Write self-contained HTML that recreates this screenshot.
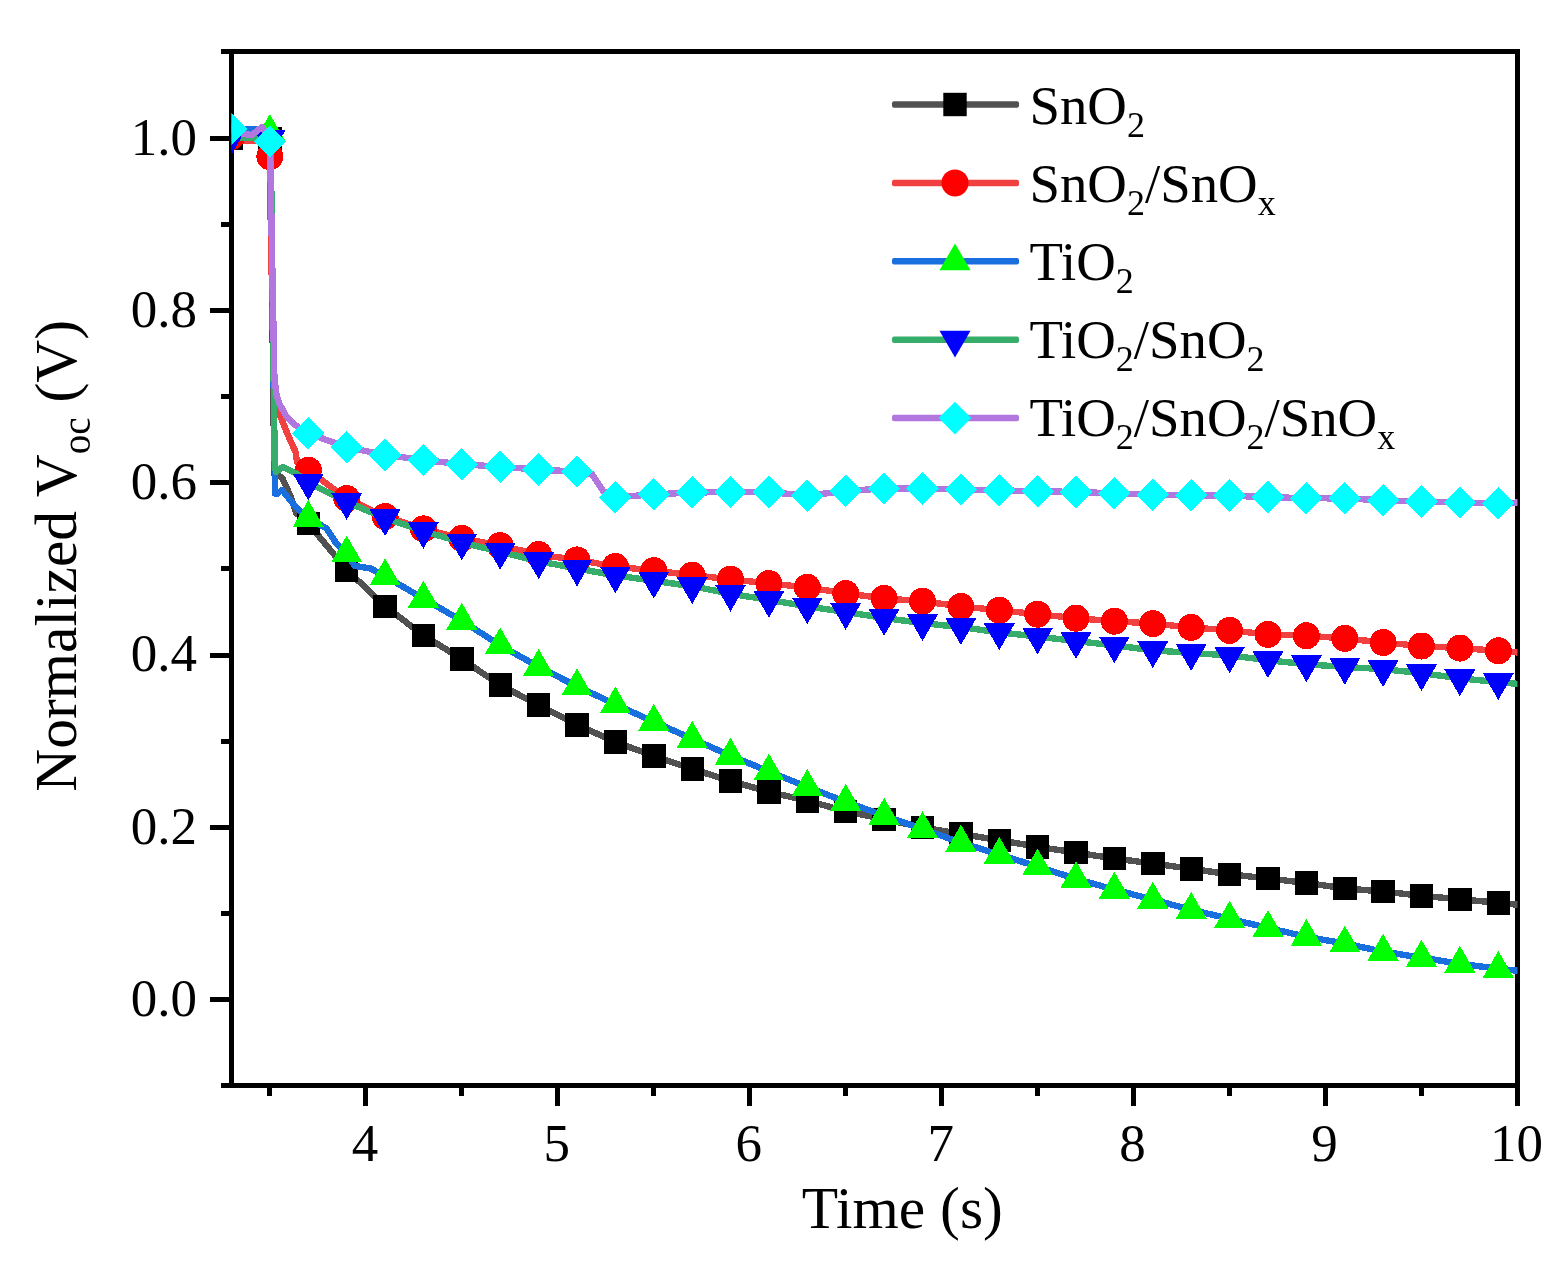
<!DOCTYPE html>
<html lang="en"><head><meta charset="utf-8"><title>Normalized Voc decay</title>
<style>
html,body{margin:0;padding:0;background:#fff;}
body{width:1564px;height:1263px;overflow:hidden;}
svg{display:block;}
text{font-family:"Liberation Serif","Times New Roman",serif;fill:#000;}
.tk{font-size:53px;}
.ti{font-size:59.5px;}
.lg{font-size:54.8px;}
</style></head><body>
<svg width="1564" height="1263" viewBox="0 0 1564 1263">
<rect width="1564" height="1263" fill="#fff"/>
<defs><clipPath id="cp"><rect x="231.5" y="51.5" width="1286.0" height="1034.0"/></clipPath></defs>

<g stroke="#000" stroke-width="5" fill="none" stroke-linecap="butt" shape-rendering="crispEdges">
<rect x="231.5" y="51.5" width="1286.0" height="1034.0"/>
<line x1="221.0" y1="1085.5" x2="231.5" y2="1085.5"/>
<line x1="210.0" y1="999.5" x2="231.5" y2="999.5"/>
<line x1="221.0" y1="913.5" x2="231.5" y2="913.5"/>
<line x1="210.0" y1="827.5" x2="231.5" y2="827.5"/>
<line x1="221.0" y1="741.5" x2="231.5" y2="741.5"/>
<line x1="210.0" y1="655.5" x2="231.5" y2="655.5"/>
<line x1="221.0" y1="568.5" x2="231.5" y2="568.5"/>
<line x1="210.0" y1="482.5" x2="231.5" y2="482.5"/>
<line x1="221.0" y1="396.5" x2="231.5" y2="396.5"/>
<line x1="210.0" y1="310.5" x2="231.5" y2="310.5"/>
<line x1="221.0" y1="224.5" x2="231.5" y2="224.5"/>
<line x1="210.0" y1="138.5" x2="231.5" y2="138.5"/>
<line x1="221.0" y1="51.5" x2="231.5" y2="51.5"/>
<line x1="269.5" y1="1085.5" x2="269.5" y2="1096.0"/>
<line x1="365.5" y1="1085.5" x2="365.5" y2="1106.0"/>
<line x1="461.5" y1="1085.5" x2="461.5" y2="1096.0"/>
<line x1="557.5" y1="1085.5" x2="557.5" y2="1106.0"/>
<line x1="653.5" y1="1085.5" x2="653.5" y2="1096.0"/>
<line x1="749.5" y1="1085.5" x2="749.5" y2="1106.0"/>
<line x1="845.5" y1="1085.5" x2="845.5" y2="1096.0"/>
<line x1="941.5" y1="1085.5" x2="941.5" y2="1106.0"/>
<line x1="1037.5" y1="1085.5" x2="1037.5" y2="1096.0"/>
<line x1="1133.5" y1="1085.5" x2="1133.5" y2="1106.0"/>
<line x1="1229.5" y1="1085.5" x2="1229.5" y2="1096.0"/>
<line x1="1325.5" y1="1085.5" x2="1325.5" y2="1106.0"/>
<line x1="1421.5" y1="1085.5" x2="1421.5" y2="1096.0"/>
<line x1="1517.5" y1="1085.5" x2="1517.5" y2="1106.0"/>
</g>
<g clip-path="url(#cp)" shape-rendering="crispEdges">
<polyline points="229.0,138.2 250.0,138.2 267.0,138.2 270.5,160.0 274.3,474.0 282.0,477.5 290.0,495.0 296.0,512.7 308.3,523.5 346.7,569.8 385.1,606.3 423.4,635.3 461.8,659.0 500.2,685.1 538.6,705.0 577.0,724.8 615.4,742.0 653.8,755.9 692.2,769.0 730.5,781.0 768.9,791.9 807.3,800.8 845.7,811.2 884.1,819.3 922.5,827.4 960.9,834.0 999.3,840.2 1037.6,846.8 1076.0,852.6 1114.4,858.5 1152.8,863.5 1191.2,868.8 1229.6,874.3 1268.0,878.5 1306.4,882.9 1344.8,888.4 1383.1,891.5 1421.5,895.8 1459.9,899.2 1498.3,902.8 1520.5,905.0" fill="none" stroke="#515151" stroke-width="6.4" stroke-linejoin="round"/>
<rect x="219.8" y="126.5" width="23.4" height="23.4" fill="#000000"/>
<rect x="258.2" y="126.6" width="23.4" height="23.4" fill="#000000"/>
<rect x="296.6" y="511.8" width="23.4" height="23.4" fill="#000000"/>
<rect x="335.0" y="558.1" width="23.4" height="23.4" fill="#000000"/>
<rect x="373.4" y="594.6" width="23.4" height="23.4" fill="#000000"/>
<rect x="411.7" y="623.6" width="23.4" height="23.4" fill="#000000"/>
<rect x="450.1" y="647.3" width="23.4" height="23.4" fill="#000000"/>
<rect x="488.5" y="673.4" width="23.4" height="23.4" fill="#000000"/>
<rect x="526.9" y="693.3" width="23.4" height="23.4" fill="#000000"/>
<rect x="565.3" y="713.1" width="23.4" height="23.4" fill="#000000"/>
<rect x="603.7" y="730.3" width="23.4" height="23.4" fill="#000000"/>
<rect x="642.1" y="744.2" width="23.4" height="23.4" fill="#000000"/>
<rect x="680.5" y="757.3" width="23.4" height="23.4" fill="#000000"/>
<rect x="718.8" y="769.3" width="23.4" height="23.4" fill="#000000"/>
<rect x="757.2" y="780.2" width="23.4" height="23.4" fill="#000000"/>
<rect x="795.6" y="789.1" width="23.4" height="23.4" fill="#000000"/>
<rect x="834.0" y="799.5" width="23.4" height="23.4" fill="#000000"/>
<rect x="872.4" y="807.6" width="23.4" height="23.4" fill="#000000"/>
<rect x="910.8" y="815.7" width="23.4" height="23.4" fill="#000000"/>
<rect x="949.2" y="822.3" width="23.4" height="23.4" fill="#000000"/>
<rect x="987.6" y="828.5" width="23.4" height="23.4" fill="#000000"/>
<rect x="1025.9" y="835.1" width="23.4" height="23.4" fill="#000000"/>
<rect x="1064.3" y="840.9" width="23.4" height="23.4" fill="#000000"/>
<rect x="1102.7" y="846.8" width="23.4" height="23.4" fill="#000000"/>
<rect x="1141.1" y="851.8" width="23.4" height="23.4" fill="#000000"/>
<rect x="1179.5" y="857.1" width="23.4" height="23.4" fill="#000000"/>
<rect x="1217.9" y="862.6" width="23.4" height="23.4" fill="#000000"/>
<rect x="1256.3" y="866.8" width="23.4" height="23.4" fill="#000000"/>
<rect x="1294.7" y="871.2" width="23.4" height="23.4" fill="#000000"/>
<rect x="1333.1" y="876.7" width="23.4" height="23.4" fill="#000000"/>
<rect x="1371.4" y="879.8" width="23.4" height="23.4" fill="#000000"/>
<rect x="1409.8" y="884.1" width="23.4" height="23.4" fill="#000000"/>
<rect x="1448.2" y="887.5" width="23.4" height="23.4" fill="#000000"/>
<rect x="1486.6" y="891.1" width="23.4" height="23.4" fill="#000000"/>
<polyline points="229.0,141.0 255.0,141.0 266.0,142.0 269.8,170.0 274.0,400.0 277.0,408.0 288.4,436.0 295.6,452.0 297.0,462.0 308.3,470.2 346.7,498.5 385.1,516.5 423.4,528.9 461.8,538.3 500.2,545.6 538.6,554.5 577.0,559.9 615.4,566.5 653.8,570.6 692.2,575.2 730.5,579.2 768.9,583.5 807.3,587.3 845.7,593.5 884.1,598.3 922.5,601.3 960.9,606.4 999.3,610.3 1037.6,614.2 1076.0,618.2 1114.4,621.2 1152.8,623.6 1191.2,627.4 1229.6,630.4 1268.0,634.4 1306.4,635.7 1344.8,638.4 1383.1,642.5 1421.5,646.0 1459.9,648.1 1498.3,650.8 1520.5,652.7" fill="none" stroke="#F14040" stroke-width="6.4" stroke-linejoin="round"/>
<circle cx="231.5" cy="136.5" r="13.5" fill="#FF0000"/>
<circle cx="269.9" cy="156.7" r="13.5" fill="#FF0000"/>
<circle cx="308.3" cy="470.2" r="13.5" fill="#FF0000"/>
<circle cx="346.7" cy="498.5" r="13.5" fill="#FF0000"/>
<circle cx="385.1" cy="516.5" r="13.5" fill="#FF0000"/>
<circle cx="423.4" cy="528.9" r="13.5" fill="#FF0000"/>
<circle cx="461.8" cy="538.3" r="13.5" fill="#FF0000"/>
<circle cx="500.2" cy="545.6" r="13.5" fill="#FF0000"/>
<circle cx="538.6" cy="554.5" r="13.5" fill="#FF0000"/>
<circle cx="577.0" cy="559.9" r="13.5" fill="#FF0000"/>
<circle cx="615.4" cy="566.5" r="13.5" fill="#FF0000"/>
<circle cx="653.8" cy="570.6" r="13.5" fill="#FF0000"/>
<circle cx="692.2" cy="575.2" r="13.5" fill="#FF0000"/>
<circle cx="730.5" cy="579.2" r="13.5" fill="#FF0000"/>
<circle cx="768.9" cy="583.5" r="13.5" fill="#FF0000"/>
<circle cx="807.3" cy="587.3" r="13.5" fill="#FF0000"/>
<circle cx="845.7" cy="593.5" r="13.5" fill="#FF0000"/>
<circle cx="884.1" cy="598.3" r="13.5" fill="#FF0000"/>
<circle cx="922.5" cy="601.3" r="13.5" fill="#FF0000"/>
<circle cx="960.9" cy="606.4" r="13.5" fill="#FF0000"/>
<circle cx="999.3" cy="610.3" r="13.5" fill="#FF0000"/>
<circle cx="1037.6" cy="614.2" r="13.5" fill="#FF0000"/>
<circle cx="1076.0" cy="618.2" r="13.5" fill="#FF0000"/>
<circle cx="1114.4" cy="621.2" r="13.5" fill="#FF0000"/>
<circle cx="1152.8" cy="623.6" r="13.5" fill="#FF0000"/>
<circle cx="1191.2" cy="627.4" r="13.5" fill="#FF0000"/>
<circle cx="1229.6" cy="630.4" r="13.5" fill="#FF0000"/>
<circle cx="1268.0" cy="634.4" r="13.5" fill="#FF0000"/>
<circle cx="1306.4" cy="635.7" r="13.5" fill="#FF0000"/>
<circle cx="1344.8" cy="638.4" r="13.5" fill="#FF0000"/>
<circle cx="1383.1" cy="642.5" r="13.5" fill="#FF0000"/>
<circle cx="1421.5" cy="646.0" r="13.5" fill="#FF0000"/>
<circle cx="1459.9" cy="648.1" r="13.5" fill="#FF0000"/>
<circle cx="1498.3" cy="650.8" r="13.5" fill="#FF0000"/>
<polyline points="229.0,131.5 245.0,129.5 258.0,129.5 267.0,131.7 270.8,150.0 275.0,493.5 277.0,493.8 282.0,490.0 290.0,500.0 298.0,509.5 308.3,517.9 326.7,528.6 336.0,543.0 346.7,553.4 354.6,565.8 370.8,568.5 385.1,576.3 423.4,598.6 461.8,620.7 500.2,645.3 538.6,666.8 577.0,686.3 615.4,704.4 653.8,721.8 692.2,738.8 730.5,755.6 768.9,771.5 807.3,787.0 845.7,801.8 884.1,815.7 922.5,829.0 960.9,842.6 999.3,854.7 1037.6,866.5 1076.0,878.9 1114.4,889.6 1152.8,899.6 1191.2,909.8 1229.6,918.8 1268.0,927.9 1306.4,936.8 1344.8,943.5 1383.1,951.6 1421.5,957.7 1459.9,963.7 1498.3,968.8 1520.5,971.0" fill="none" stroke="#1A6FDF" stroke-width="6.4" stroke-linejoin="round"/>
<polygon points="231.5,113.7 247.0,140.5 216.0,140.5" fill="#00FF00"/>
<polygon points="269.9,114.1 285.4,140.9 254.4,140.9" fill="#00FF00"/>
<polygon points="308.3,500.0 323.8,526.8 292.8,526.8" fill="#00FF00"/>
<polygon points="346.7,535.5 362.2,562.3 331.2,562.3" fill="#00FF00"/>
<polygon points="385.1,558.4 400.6,585.2 369.6,585.2" fill="#00FF00"/>
<polygon points="423.4,580.7 438.9,607.5 407.9,607.5" fill="#00FF00"/>
<polygon points="461.8,602.8 477.3,629.6 446.3,629.6" fill="#00FF00"/>
<polygon points="500.2,627.4 515.7,654.2 484.7,654.2" fill="#00FF00"/>
<polygon points="538.6,648.9 554.1,675.7 523.1,675.7" fill="#00FF00"/>
<polygon points="577.0,668.4 592.5,695.2 561.5,695.2" fill="#00FF00"/>
<polygon points="615.4,686.5 630.9,713.3 599.9,713.3" fill="#00FF00"/>
<polygon points="653.8,703.9 669.3,730.7 638.3,730.7" fill="#00FF00"/>
<polygon points="692.2,720.9 707.7,747.7 676.7,747.7" fill="#00FF00"/>
<polygon points="730.5,737.7 746.0,764.5 715.0,764.5" fill="#00FF00"/>
<polygon points="768.9,753.6 784.4,780.4 753.4,780.4" fill="#00FF00"/>
<polygon points="807.3,769.1 822.8,795.9 791.8,795.9" fill="#00FF00"/>
<polygon points="845.7,783.9 861.2,810.7 830.2,810.7" fill="#00FF00"/>
<polygon points="884.1,797.8 899.6,824.6 868.6,824.6" fill="#00FF00"/>
<polygon points="922.5,811.1 938.0,837.9 907.0,837.9" fill="#00FF00"/>
<polygon points="960.9,824.7 976.4,851.5 945.4,851.5" fill="#00FF00"/>
<polygon points="999.3,836.8 1014.8,863.6 983.8,863.6" fill="#00FF00"/>
<polygon points="1037.6,848.6 1053.1,875.4 1022.1,875.4" fill="#00FF00"/>
<polygon points="1076.0,861.0 1091.5,887.8 1060.5,887.8" fill="#00FF00"/>
<polygon points="1114.4,871.7 1129.9,898.5 1098.9,898.5" fill="#00FF00"/>
<polygon points="1152.8,881.7 1168.3,908.5 1137.3,908.5" fill="#00FF00"/>
<polygon points="1191.2,891.9 1206.7,918.7 1175.7,918.7" fill="#00FF00"/>
<polygon points="1229.6,900.9 1245.1,927.7 1214.1,927.7" fill="#00FF00"/>
<polygon points="1268.0,910.0 1283.5,936.8 1252.5,936.8" fill="#00FF00"/>
<polygon points="1306.4,918.9 1321.9,945.7 1290.9,945.7" fill="#00FF00"/>
<polygon points="1344.8,925.6 1360.3,952.4 1329.3,952.4" fill="#00FF00"/>
<polygon points="1383.1,933.7 1398.6,960.5 1367.6,960.5" fill="#00FF00"/>
<polygon points="1421.5,939.8 1437.0,966.6 1406.0,966.6" fill="#00FF00"/>
<polygon points="1459.9,945.8 1475.4,972.6 1444.4,972.6" fill="#00FF00"/>
<polygon points="1498.3,950.9 1513.8,977.7 1482.8,977.7" fill="#00FF00"/>
<polyline points="229.0,137.0 240.0,138.0 255.0,138.0 267.0,138.9 270.8,150.0 274.8,468.0 276.0,472.0 282.8,467.0 296.4,473.5 308.3,482.6 346.7,502.0 385.1,518.1 423.4,531.0 461.8,542.4 500.2,551.8 538.6,561.2 577.0,568.5 615.4,575.4 653.8,580.8 692.2,586.2 730.5,593.7 768.9,599.9 807.3,606.4 845.7,612.0 884.1,618.0 922.5,623.1 960.9,627.1 999.3,632.3 1037.6,636.6 1076.0,641.1 1114.4,645.4 1152.8,650.3 1191.2,653.0 1229.6,655.4 1268.0,660.2 1306.4,664.3 1344.8,667.0 1383.1,669.1 1421.5,673.2 1459.9,678.3 1498.3,682.1 1520.5,684.2" fill="none" stroke="#37AD6B" stroke-width="6.4" stroke-linejoin="round"/>
<polygon points="231.5,154.5 247.0,127.7 216.0,127.7" fill="#0000FF"/>
<polygon points="269.9,157.1 285.4,130.3 254.4,130.3" fill="#0000FF"/>
<polygon points="308.3,500.5 323.8,473.7 292.8,473.7" fill="#0000FF"/>
<polygon points="346.7,519.9 362.2,493.1 331.2,493.1" fill="#0000FF"/>
<polygon points="385.1,536.0 400.6,509.2 369.6,509.2" fill="#0000FF"/>
<polygon points="423.4,548.9 438.9,522.1 407.9,522.1" fill="#0000FF"/>
<polygon points="461.8,560.3 477.3,533.5 446.3,533.5" fill="#0000FF"/>
<polygon points="500.2,569.7 515.7,542.9 484.7,542.9" fill="#0000FF"/>
<polygon points="538.6,579.1 554.1,552.3 523.1,552.3" fill="#0000FF"/>
<polygon points="577.0,586.4 592.5,559.6 561.5,559.6" fill="#0000FF"/>
<polygon points="615.4,593.3 630.9,566.5 599.9,566.5" fill="#0000FF"/>
<polygon points="653.8,598.7 669.3,571.9 638.3,571.9" fill="#0000FF"/>
<polygon points="692.2,604.1 707.7,577.3 676.7,577.3" fill="#0000FF"/>
<polygon points="730.5,611.6 746.0,584.8 715.0,584.8" fill="#0000FF"/>
<polygon points="768.9,617.8 784.4,591.0 753.4,591.0" fill="#0000FF"/>
<polygon points="807.3,624.3 822.8,597.5 791.8,597.5" fill="#0000FF"/>
<polygon points="845.7,629.9 861.2,603.1 830.2,603.1" fill="#0000FF"/>
<polygon points="884.1,635.9 899.6,609.1 868.6,609.1" fill="#0000FF"/>
<polygon points="922.5,641.0 938.0,614.2 907.0,614.2" fill="#0000FF"/>
<polygon points="960.9,645.0 976.4,618.2 945.4,618.2" fill="#0000FF"/>
<polygon points="999.3,650.2 1014.8,623.4 983.8,623.4" fill="#0000FF"/>
<polygon points="1037.6,654.5 1053.1,627.7 1022.1,627.7" fill="#0000FF"/>
<polygon points="1076.0,659.0 1091.5,632.2 1060.5,632.2" fill="#0000FF"/>
<polygon points="1114.4,663.3 1129.9,636.5 1098.9,636.5" fill="#0000FF"/>
<polygon points="1152.8,668.2 1168.3,641.4 1137.3,641.4" fill="#0000FF"/>
<polygon points="1191.2,670.9 1206.7,644.1 1175.7,644.1" fill="#0000FF"/>
<polygon points="1229.6,673.3 1245.1,646.5 1214.1,646.5" fill="#0000FF"/>
<polygon points="1268.0,678.1 1283.5,651.3 1252.5,651.3" fill="#0000FF"/>
<polygon points="1306.4,682.2 1321.9,655.4 1290.9,655.4" fill="#0000FF"/>
<polygon points="1344.8,684.9 1360.3,658.1 1329.3,658.1" fill="#0000FF"/>
<polygon points="1383.1,687.0 1398.6,660.2 1367.6,660.2" fill="#0000FF"/>
<polygon points="1421.5,691.1 1437.0,664.3 1406.0,664.3" fill="#0000FF"/>
<polygon points="1459.9,696.2 1475.4,669.4 1444.4,669.4" fill="#0000FF"/>
<polygon points="1498.3,700.0 1513.8,673.2 1482.8,673.2" fill="#0000FF"/>
<polyline points="229.0,129.0 244.0,134.0 252.0,135.0 262.0,127.0 267.0,135.0 270.2,155.0 274.4,378.0 276.5,395.0 279.5,404.0 286.8,417.0 294.5,424.5 300.0,428.0 308.3,433.3 346.7,447.3 385.1,454.9 423.4,460.0 461.8,464.3 500.2,466.7 538.6,469.7 577.0,471.5 592.0,474.0 603.0,491.0 615.4,497.2 653.8,494.4 692.2,492.5 730.5,492.0 768.9,492.0 807.3,495.7 845.7,490.9 884.1,488.5 922.5,488.5 960.9,489.5 999.3,490.4 1037.6,491.2 1076.0,492.0 1114.4,493.3 1152.8,494.7 1191.2,495.2 1229.6,495.7 1268.0,497.1 1306.4,498.2 1344.8,498.4 1383.1,500.3 1421.5,501.7 1459.9,502.5 1498.3,503.3 1520.5,502.5" fill="none" stroke="#B177DE" stroke-width="6.4" stroke-linejoin="round"/>
<polygon points="231.5,112.7 247.8,129.0 231.5,145.3 215.2,129.0" fill="#00FFFF"/>
<polygon points="269.9,125.2 286.2,141.5 269.9,157.8 253.6,141.5" fill="#00FFFF"/>
<polygon points="308.3,417.0 324.6,433.3 308.3,449.6 292.0,433.3" fill="#00FFFF"/>
<polygon points="346.7,431.0 363.0,447.3 346.7,463.6 330.4,447.3" fill="#00FFFF"/>
<polygon points="385.1,438.6 401.4,454.9 385.1,471.2 368.8,454.9" fill="#00FFFF"/>
<polygon points="423.4,443.7 439.7,460.0 423.4,476.3 407.1,460.0" fill="#00FFFF"/>
<polygon points="461.8,448.0 478.1,464.3 461.8,480.6 445.5,464.3" fill="#00FFFF"/>
<polygon points="500.2,450.4 516.5,466.7 500.2,483.0 483.9,466.7" fill="#00FFFF"/>
<polygon points="538.6,453.4 554.9,469.7 538.6,486.0 522.3,469.7" fill="#00FFFF"/>
<polygon points="577.0,455.2 593.3,471.5 577.0,487.8 560.7,471.5" fill="#00FFFF"/>
<polygon points="615.4,480.9 631.7,497.2 615.4,513.5 599.1,497.2" fill="#00FFFF"/>
<polygon points="653.8,478.1 670.1,494.4 653.8,510.7 637.5,494.4" fill="#00FFFF"/>
<polygon points="692.2,476.2 708.5,492.5 692.2,508.8 675.9,492.5" fill="#00FFFF"/>
<polygon points="730.5,475.7 746.8,492.0 730.5,508.3 714.2,492.0" fill="#00FFFF"/>
<polygon points="768.9,475.7 785.2,492.0 768.9,508.3 752.6,492.0" fill="#00FFFF"/>
<polygon points="807.3,479.4 823.6,495.7 807.3,512.0 791.0,495.7" fill="#00FFFF"/>
<polygon points="845.7,474.6 862.0,490.9 845.7,507.2 829.4,490.9" fill="#00FFFF"/>
<polygon points="884.1,472.2 900.4,488.5 884.1,504.8 867.8,488.5" fill="#00FFFF"/>
<polygon points="922.5,472.2 938.8,488.5 922.5,504.8 906.2,488.5" fill="#00FFFF"/>
<polygon points="960.9,473.2 977.2,489.5 960.9,505.8 944.6,489.5" fill="#00FFFF"/>
<polygon points="999.3,474.1 1015.6,490.4 999.3,506.7 983.0,490.4" fill="#00FFFF"/>
<polygon points="1037.6,474.9 1053.9,491.2 1037.6,507.5 1021.3,491.2" fill="#00FFFF"/>
<polygon points="1076.0,475.7 1092.3,492.0 1076.0,508.3 1059.7,492.0" fill="#00FFFF"/>
<polygon points="1114.4,477.0 1130.7,493.3 1114.4,509.6 1098.1,493.3" fill="#00FFFF"/>
<polygon points="1152.8,478.4 1169.1,494.7 1152.8,511.0 1136.5,494.7" fill="#00FFFF"/>
<polygon points="1191.2,478.9 1207.5,495.2 1191.2,511.5 1174.9,495.2" fill="#00FFFF"/>
<polygon points="1229.6,479.4 1245.9,495.7 1229.6,512.0 1213.3,495.7" fill="#00FFFF"/>
<polygon points="1268.0,480.8 1284.3,497.1 1268.0,513.4 1251.7,497.1" fill="#00FFFF"/>
<polygon points="1306.4,481.9 1322.7,498.2 1306.4,514.5 1290.1,498.2" fill="#00FFFF"/>
<polygon points="1344.8,482.1 1361.1,498.4 1344.8,514.7 1328.5,498.4" fill="#00FFFF"/>
<polygon points="1383.1,484.0 1399.4,500.3 1383.1,516.6 1366.8,500.3" fill="#00FFFF"/>
<polygon points="1421.5,485.4 1437.8,501.7 1421.5,518.0 1405.2,501.7" fill="#00FFFF"/>
<polygon points="1459.9,486.2 1476.2,502.5 1459.9,518.8 1443.6,502.5" fill="#00FFFF"/>
<polygon points="1498.3,487.0 1514.6,503.3 1498.3,519.6 1482.0,503.3" fill="#00FFFF"/>
</g>
<text class="tk" x="197" y="1015.7" text-anchor="end">0.0</text>
<text class="tk" x="197" y="843.5" text-anchor="end">0.2</text>
<text class="tk" x="197" y="671.3" text-anchor="end">0.4</text>
<text class="tk" x="197" y="499.1" text-anchor="end">0.6</text>
<text class="tk" x="197" y="326.9" text-anchor="end">0.8</text>
<text class="tk" x="197" y="154.7" text-anchor="end">1.0</text>
<text class="tk" x="364.9" y="1161.2" text-anchor="middle">4</text>
<text class="tk" x="556.8" y="1161.2" text-anchor="middle">5</text>
<text class="tk" x="748.7" y="1161.2" text-anchor="middle">6</text>
<text class="tk" x="940.7" y="1161.2" text-anchor="middle">7</text>
<text class="tk" x="1132.6" y="1161.2" text-anchor="middle">8</text>
<text class="tk" x="1324.6" y="1161.2" text-anchor="middle">9</text>
<text class="tk" x="1516.5" y="1161.2" text-anchor="middle">10</text>
<text class="ti" x="902.3" y="1228" text-anchor="middle">Time (s)</text>
<text class="ti" transform="translate(76.3,791.8) rotate(-90)">Normalized V<tspan font-size="39" dy="14">oc</tspan><tspan dy="-14"> (V)</tspan></text>
<rect x="892" y="101.25" width="127" height="6.5" rx="2" fill="#515151"/>
<rect x="943.3" y="92.8" width="23.4" height="23.4" fill="#000000"/>
<text class="lg" x="1029.5" y="123.9">SnO<tspan font-size="36" dy="13.5">2</tspan></text>
<rect x="892" y="179.65" width="127" height="6.5" rx="2" fill="#F14040"/>
<circle cx="955.0" cy="182.9" r="13.5" fill="#FF0000"/>
<text class="lg" x="1029.5" y="201.9">SnO<tspan font-size="36" dy="13.5">2</tspan><tspan dy="-13.5">/SnO</tspan><tspan font-size="36" dy="13.5">x</tspan></text>
<rect x="892" y="258.05" width="127" height="6.5" rx="2" fill="#1A6FDF"/>
<polygon points="955.0,243.4 970.5,270.2 939.5,270.2" fill="#00FF00"/>
<text class="lg" x="1029.5" y="279.9">TiO<tspan font-size="36" dy="13.5">2</tspan></text>
<rect x="892" y="336.45" width="127" height="6.5" rx="2" fill="#37AD6B"/>
<polygon points="955.0,357.6 970.5,330.8 939.5,330.8" fill="#0000FF"/>
<text class="lg" x="1029.5" y="357.9">TiO<tspan font-size="36" dy="13.5">2</tspan><tspan dy="-13.5">/SnO</tspan><tspan font-size="36" dy="13.5">2</tspan></text>
<rect x="892" y="414.85" width="127" height="6.5" rx="2" fill="#B177DE"/>
<polygon points="955.0,401.8 971.3,418.1 955.0,434.4 938.7,418.1" fill="#00FFFF"/>
<text class="lg" x="1029.5" y="435.9">TiO<tspan font-size="36" dy="13.5">2</tspan><tspan dy="-13.5">/SnO</tspan><tspan font-size="36" dy="13.5">2</tspan><tspan dy="-13.5">/SnO</tspan><tspan font-size="36" dy="13.5">x</tspan></text>
</svg></body></html>
